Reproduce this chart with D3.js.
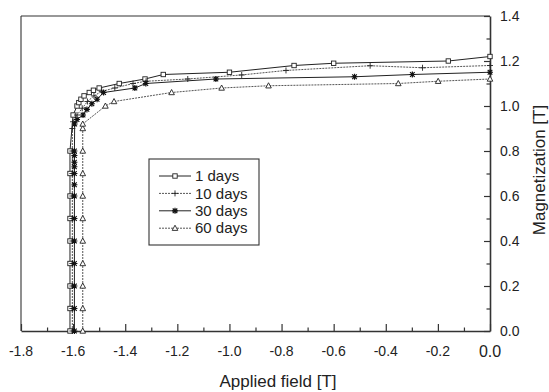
<!DOCTYPE html>
<html>
<head>
<meta charset="utf-8">
<script src="https://cdn.jsdelivr.net/npm/d3@7"></script>
<style>
  body { margin: 0; background: #fff; }
  svg { display: block; font-family: "Liberation Sans", Arial, sans-serif; }
</style>
</head>
<body>
<svg id="chart" width="549" height="392"></svg>
<script>
// series: applied field [T] vs magnetization [T]
var seriesNames = ["1 days", "10 days", "30 days", "60 days"];

var field1 = [-1.612, -1.612, -1.612, -1.612, -1.612, -1.612, -1.612, -1.612, -1.612, -1.600, -1.585, -1.578, -1.570, -1.558, -1.538, -1.522, -1.500, -1.423, -1.324, -1.254, -1.000, -0.752, -0.600, -0.160, 0.0];
var mag1 = [0.0, 0.1, 0.2, 0.3, 0.4, 0.5, 0.6, 0.7, 0.8, 0.96, 1.00, 1.015, 1.03, 1.045, 1.06, 1.07, 1.08, 1.10, 1.12, 1.14, 1.15, 1.18, 1.19, 1.20, 1.22];

var field10 = [-1.603, -1.603, -1.603, -1.603, -1.603, -1.603, -1.603, -1.603, -1.603, -1.603, -1.600, -1.585, -1.565, -1.545, -1.520, -1.490, -1.440, -1.370, -1.320, -1.160, -0.953, -0.783, -0.460, -0.259, 0.0];
var mag10 = [0.0, 0.1, 0.2, 0.3, 0.4, 0.5, 0.6, 0.7, 0.8, 0.9, 0.93, 0.96, 0.99, 1.02, 1.045, 1.065, 1.08, 1.10, 1.11, 1.12, 1.138, 1.158, 1.179, 1.17, 1.18];

var field30 = [-1.595, -1.595, -1.595, -1.595, -1.595, -1.595, -1.595, -1.595, -1.595, -1.595, -1.595, -1.595, -1.595, -1.594, -1.585, -1.562, -1.547, -1.528, -1.508, -1.483, -1.363, -1.321, -1.052, -0.520, -0.298, 0.0];
var mag30 = [0.0, 0.1, 0.2, 0.3, 0.4, 0.5, 0.6, 0.65, 0.7, 0.73, 0.75, 0.78, 0.8, 0.92, 0.94, 0.96, 0.985, 1.01, 1.03, 1.06, 1.08, 1.10, 1.12, 1.13, 1.14, 1.15];

var field60 = [-1.563, -1.563, -1.563, -1.563, -1.563, -1.563, -1.563, -1.563, -1.563, -1.563, -1.563, -1.476, -1.443, -1.222, -1.030, -0.850, -0.352, -0.199, 0.0];
var mag60 = [0.0, 0.1, 0.2, 0.3, 0.4, 0.5, 0.6, 0.7, 0.8, 0.90, 0.92, 1.00, 1.02, 1.06, 1.08, 1.09, 1.10, 1.11, 1.12];

var xTicks = [-1.8, -1.6, -1.4, -1.2, -1.0, -0.8, -0.6, -0.4, -0.2, 0.0];
var yTicks = [0.0, 0.2, 0.4, 0.6, 0.8, 1.0, 1.2, 1.4];

var zip = (xs, ys) => xs.map((x, i) => [x, ys[i]]);
var series = [
  {name: seriesNames[0], pts: zip(field1, mag1), marker: "square", dash: null, color: "#222"},
  {name: seriesNames[1], pts: zip(field10, mag10), marker: "plus", dash: "2,1", color: "#555"},
  {name: seriesNames[2], pts: zip(field30, mag30), marker: "star", dash: null, color: "#222"},
  {name: seriesNames[3], pts: zip(field60, mag60), marker: "triangle", dash: "2,1", color: "#555"}
];

var plotL = 21, plotR = 490, plotT = 16, plotB = 331;
var svg = d3.select("#chart");

var x = d3.scaleLinear().domain([-1.8, 0]).range([plotL, plotR]);
var y = d3.scaleLinear().domain([0, 1.4]).range([plotB, plotT]);

// frame: thin top/left, heavier axes on bottom/right
svg.append("line").attr("x1", plotL).attr("x2", plotR).attr("y1", plotT).attr("y2", plotT)
  .attr("stroke", "#333").attr("stroke-width", 1.1);
svg.append("line").attr("x1", plotL).attr("x2", plotL).attr("y1", plotT).attr("y2", plotB)
  .attr("stroke", "#333").attr("stroke-width", 1.1);

var minorX = d3.range(-18, 1).map(d => d / 10);
var minorY = d3.range(0, 15).map(d => d / 10);

var gx = svg.append("g").attr("transform", `translate(0,${plotB})`)
  .call(d3.axisBottom(x).tickValues(minorX).tickSize(0).tickFormat(""));
gx.select(".domain").attr("stroke", "#333").attr("stroke-width", 1.6);
gx.selectAll(".tick line")
  .attr("y2", d => Math.abs(Math.round(d * 10)) % 2 === 0 ? -7 : -3.5)
  .attr("stroke", "#333").attr("stroke-width", 1.2);

svg.append("g").selectAll("text").data(xTicks).join("text")
  .attr("x", d => x(d))
  .attr("y", 351)
  .attr("dy", "0.35em")
  .attr("text-anchor", "middle")
  .attr("fill", "#222")
  .style("font-size", d => d === 0 ? "16px" : "14px")
  .text(d => d3.format(".1f")(d).replace("−", "-"));

var gy = svg.append("g").attr("transform", `translate(${plotR},0)`)
  .call(d3.axisRight(y).tickValues(minorY).tickSize(0).tickFormat(""));
gy.select(".domain").attr("stroke", "#333").attr("stroke-width", 1.6);
gy.selectAll(".tick line")
  .attr("x2", d => Math.round(d * 10) % 2 === 0 ? -6 : -3.5)
  .attr("stroke", "#333").attr("stroke-width", 1.2);

svg.append("g").selectAll("text").data(yTicks).join("text")
  .attr("x", 500)
  .attr("y", d => y(d))
  .attr("dy", "0.35em")
  .attr("fill", "#222")
  .style("font-size", "14px")
  .text(d => d3.format(".1f")(d));

// axis titles
svg.append("text").attr("x", 278).attr("y", 381).attr("dy", "0.35em")
  .attr("text-anchor", "middle").attr("fill", "#222").style("font-size", "17px")
  .text("Applied field [T]");
svg.append("text").attr("transform", "translate(539,170) rotate(-90)")
  .attr("dy", "0.35em").attr("text-anchor", "middle").attr("fill", "#222").style("font-size", "17px")
  .text("Magnetization [T]");

function drawMarker(g, kind, color) {
  if (kind === "square") {
    g.append("rect").attr("x", -2.2).attr("y", -2.2).attr("width", 4.4).attr("height", 4.4)
      .attr("fill", "#fff").attr("stroke", color).attr("stroke-width", 0.9);
  } else if (kind === "plus") {
    g.append("path").attr("d", "M-3,0H3M0,-3V3").attr("stroke", "#222").attr("stroke-width", 0.9);
  } else if (kind === "star") {
    g.append("path").attr("d", "M-3,0H3M0,-3V3M-2.3,-2.3L2.3,2.3M-2.3,2.3L2.3,-2.3")
      .attr("stroke", "#111").attr("stroke-width", 1.2);
  } else {
    g.append("path").attr("d", "M0,-3L2.8,2.2H-2.8Z")
      .attr("fill", "#fff").attr("stroke", "#222").attr("stroke-width", 0.9);
  }
}

var line = d3.line().x(d => x(d[0])).y(d => y(d[1]));

var plot = svg.append("g");
series.forEach(function(s) {
  plot.append("path").datum(s.pts)
    .attr("d", line)
    .attr("fill", "none")
    .attr("stroke", s.color)
    .attr("stroke-width", 1)
    .attr("stroke-dasharray", s.dash);
});
series.forEach(function(s) {
  s.pts.forEach(function(p) {
    var g = plot.append("g").attr("transform", `translate(${x(p[0])},${y(p[1])})`);
    drawMarker(g, s.marker, "#222");
  });
});

// legend
var lg = svg.append("g");
lg.append("rect").attr("x", 149).attr("y", 159).attr("width", 110).attr("height", 86)
  .attr("fill", "#fff").attr("stroke", "#333").attr("stroke-width", 1.1);
series.forEach(function(s, i) {
  var ly = 176 + i * 17.4;
  lg.append("line").attr("x1", 159).attr("x2", 191).attr("y1", ly).attr("y2", ly)
    .attr("stroke", s.color).attr("stroke-width", 1).attr("stroke-dasharray", s.dash);
  drawMarker(lg.append("g").attr("transform", `translate(175,${ly})`), s.marker, "#222");
  lg.append("text").attr("x", 195).attr("y", ly).attr("dy", "0.35em")
    .attr("fill", "#222").style("font-size", "15px").text(s.name);
});
</script>
</body>
</html>
